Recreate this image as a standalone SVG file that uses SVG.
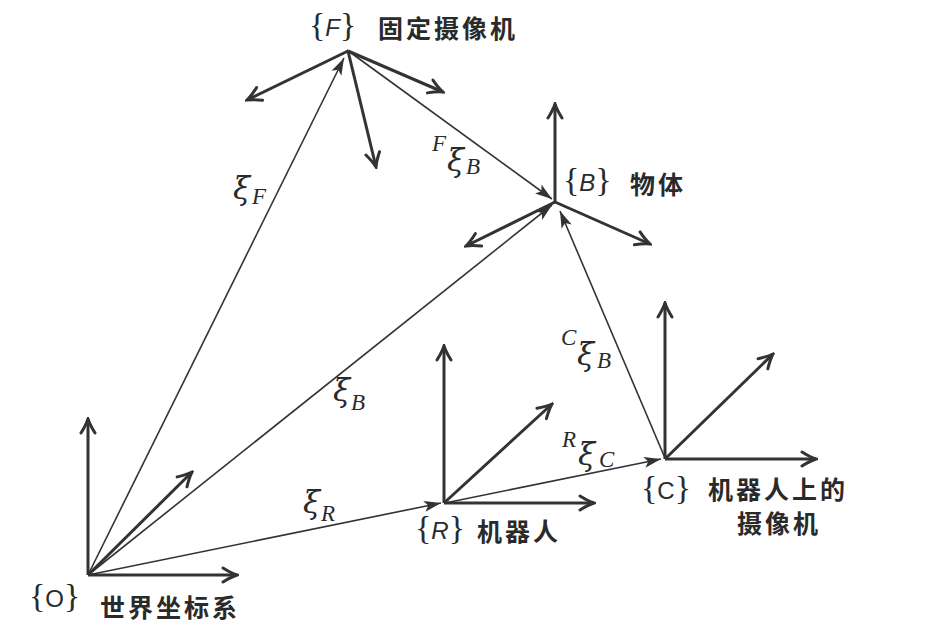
<svg xmlns="http://www.w3.org/2000/svg" width="937" height="642" viewBox="0 0 937 642">
<defs>
<style>
.bg{fill:#ffffff}
.axis{stroke:#333;stroke-width:3;fill:none;stroke-linecap:butt}
.vec{stroke:#333;stroke-width:1.6;fill:none}
.br{font-family:"Liberation Serif",serif;font-size:34px;fill:#2a2a2a}
.lt{font-family:"Liberation Sans",sans-serif;font-size:24px;fill:#2a2a2a}
.cn{font-family:"Noto Sans CJK SC",sans-serif;font-size:25px;font-weight:bold;letter-spacing:3px;fill:#2a2a2a}
.xi{font-family:"DejaVu Serif",serif;font-style:italic;font-size:31px;fill:#2a2a2a}
.sb{font-family:"Liberation Serif",serif;font-style:italic;font-size:23px;fill:#2a2a2a}
</style>
<marker id="open" viewBox="-18 -10 20 20" markerWidth="20" markerHeight="20" refX="0" refY="0" orient="auto" markerUnits="userSpaceOnUse">
<path d="M-14,-7 Q-6,-2 0,0 Q-6,2 -14,7" stroke="#333" stroke-width="3" fill="none" stroke-linecap="round"/>
</marker>
<marker id="fill" viewBox="-20 -10 22 20" markerWidth="22" markerHeight="20" refX="0" refY="0" orient="auto" markerUnits="userSpaceOnUse">
<path d="M0,0 L-17,-5.5 L-13,0 L-17,5.5 Z" fill="#333"/>
</marker>
</defs>
<rect class="bg" x="0" y="0" width="937" height="642"/>

<g id="connectors">
<line class="vec" x1="88" y1="575" x2="344" y2="58" marker-end="url(#fill)"/>
<line class="vec" x1="88" y1="575" x2="552" y2="205" marker-end="url(#fill)"/>
<line class="vec" x1="88" y1="575" x2="441" y2="503" marker-end="url(#fill)"/>
<line class="vec" x1="445" y1="503" x2="661" y2="459" marker-end="url(#fill)"/>
<line class="vec" x1="665" y1="458" x2="560" y2="211" marker-end="url(#fill)"/>
<line class="vec" x1="347" y1="50" x2="552" y2="199" marker-end="url(#fill)"/>
<text class="xi" x="233" y="199">ξ</text><text class="sb" x="252" y="204">F</text>
<text class="xi" x="333" y="401">ξ</text><text class="sb" x="351" y="410">B</text>
<text class="xi" x="303" y="513">ξ</text><text class="sb" x="321" y="521">R</text>
<text class="sb" x="432" y="151">F</text><text class="xi" x="447" y="171">ξ</text><text class="sb" x="466" y="174">B</text>
<text class="sb" x="561" y="345">C</text><text class="xi" x="577" y="365">ξ</text><text class="sb" x="597" y="368">B</text>
<text class="sb" x="562" y="447">R</text><text class="xi" x="578" y="465">ξ</text><text class="sb" x="599" y="467">C</text>
</g>

<g id="frame-O">
<line class="axis" x1="88" y1="575" x2="88" y2="419" marker-end="url(#open)"/>
<line class="axis" x1="88" y1="575" x2="237" y2="575" marker-end="url(#open)"/>
<line class="axis" x1="88" y1="575" x2="192" y2="472" marker-end="url(#open)"/>
<text x="29" y="607"><tspan class="br">{</tspan><tspan class="lt">O</tspan><tspan class="br">}</tspan></text>
<text class="cn" x="100" y="617">世界坐标系</text>
</g>

<g id="frame-F">
<line class="axis" x1="348" y1="51" x2="247" y2="100" marker-end="url(#open)"/>
<line class="axis" x1="348" y1="51" x2="376" y2="167" marker-end="url(#open)"/>
<line class="axis" x1="348" y1="51" x2="443" y2="92" marker-end="url(#open)"/>
<text x="309" y="36"><tspan class="br">{</tspan><tspan class="lt" font-style="italic">F</tspan><tspan class="br">}</tspan></text>
<text class="cn" x="378" y="38">固定摄像机</text>
</g>

<g id="frame-B">
<line class="axis" x1="555" y1="202" x2="555" y2="104" marker-end="url(#open)"/>
<line class="axis" x1="555" y1="202" x2="466" y2="246" marker-end="url(#open)"/>
<line class="axis" x1="555" y1="202" x2="650" y2="244" marker-end="url(#open)"/>
<text x="563" y="191"><tspan class="br">{</tspan><tspan class="lt" font-style="italic">B</tspan><tspan class="br">}</tspan></text>
<text class="cn" x="630" y="194">物体</text>
</g>

<g id="frame-R">
<line class="axis" x1="444" y1="503" x2="444" y2="346" marker-end="url(#open)"/>
<line class="axis" x1="444" y1="503" x2="552" y2="404" marker-end="url(#open)"/>
<line class="axis" x1="444" y1="503" x2="594" y2="503" marker-end="url(#open)"/>
<text x="415" y="539"><tspan class="br">{</tspan><tspan class="lt" font-style="italic">R</tspan><tspan class="br">}</tspan></text>
<text class="cn" x="477" y="541">机器人</text>
</g>

<g id="frame-C">
<line class="axis" x1="665" y1="459" x2="665" y2="303" marker-end="url(#open)"/>
<line class="axis" x1="665" y1="459" x2="773" y2="354" marker-end="url(#open)"/>
<line class="axis" x1="665" y1="459" x2="816" y2="459" marker-end="url(#open)"/>
<text x="641" y="499"><tspan class="br">{</tspan><tspan class="lt">C</tspan><tspan class="br">}</tspan></text>
<text class="cn" x="708" y="499">机器人上的</text>
<text class="cn" x="737" y="533">摄像机</text>
</g>
</svg>
